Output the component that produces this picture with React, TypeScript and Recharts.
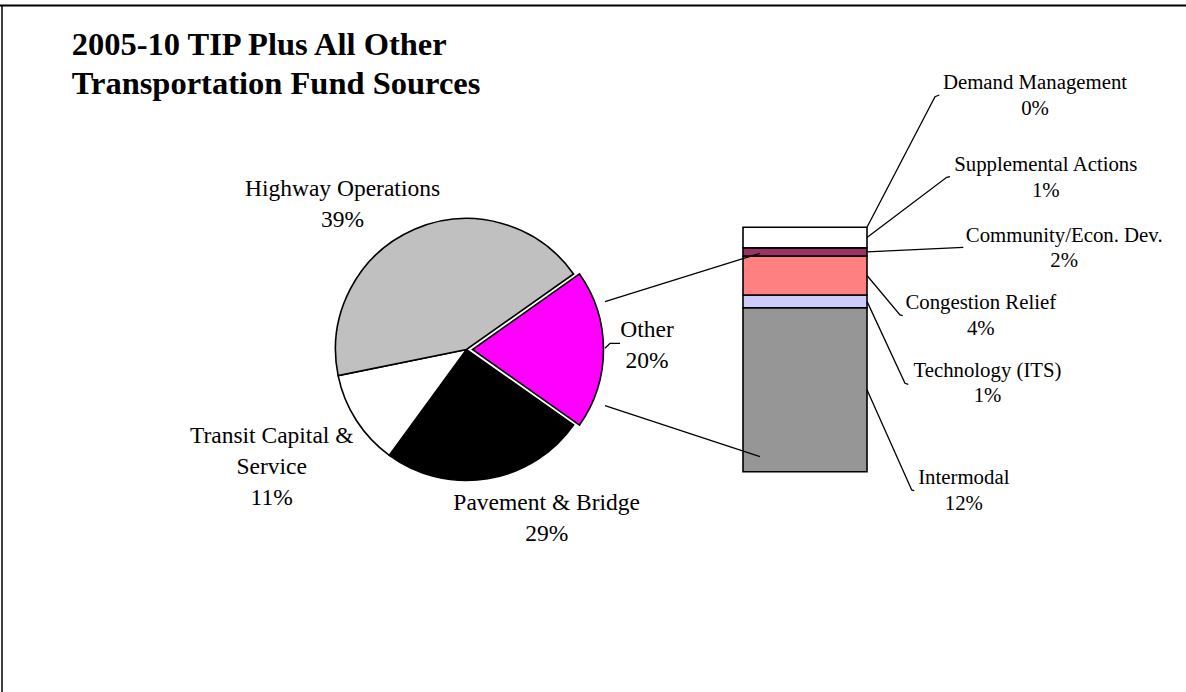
import React from 'react';
import { PieChart, Pie, Cell, BarChart, Bar, XAxis, YAxis, LabelList } from 'recharts';

// ---------- data ----------
const titleLines = ['2005-10 TIP Plus All Other', 'Transportation Fund Sources'];

// main pie slices, clockwise after the exploded "Other" slice
const pieNames = ['Pavement & Bridge', 'Transit Capital & Service', 'Highway Operations'];
const pieValues = [25.3, 11.8, 43.5];
const pieLabels = ['29%', '11%', '39%'];
const pieColors = ['#000000', '#FFFFFF', '#C0C0C0'];

const otherName = 'Other';
const otherLabel = '20%';
const otherColor = '#FF00FF';

// breakdown of "Other" (bottom to top of the stacked bar)
const barNames = ['Intermodal', 'Technology (ITS)', 'Congestion Relief', 'Community/Econ. Dev.', 'Supplemental Actions', 'Demand Management'];
const barValues = [13.15, 1.02, 3.13, 0.65, 1.65, 0];
const barLabels = ['12%', '1%', '4%', '2%', '1%', '0%'];
const barColors = ['#969696', '#CCCCFF', '#FF8080', '#993366', '#FFFFFF', '#FFFFFF'];

// ---------- layout ----------
const W = 1186;
const H = 692;
const FONT = '"Liberation Serif", "Times New Roman", serif';
const PIE = { cx: 466.5, cy: 349.5, r: 131, explode: 6 };
const BAR = { left: 743, top: 227.3, width: 124, height: 244.4 };
const PIE_FS = 23.5;
const PIE_LH = 31;
const BAR_FS = 20.8;
const BAR_LH = 25.7;

const pieLabelPos: Record<string, { x: number; y: number; lines: string[] }> = {
  'Pavement & Bridge': { x: 546.7, y: 510, lines: ['Pavement & Bridge'] },
  'Transit Capital & Service': { x: 271.7, y: 443.3, lines: ['Transit Capital &', 'Service'] },
  'Highway Operations': { x: 342.5, y: 196, lines: ['Highway Operations'] },
  Other: { x: 647, y: 337, lines: ['Other'] },
};

const barLabelPos = [
  { x: 963.8, y: 484, bend: [911.7, 490], end: [914.3, 490.7] },
  { x: 987.5, y: 376.7, bend: [905, 383.3], end: [908.3, 384.3] },
  { x: 980.8, y: 309.3, bend: [900, 315], end: [902.7, 315.7] },
  { x: 1064.2, y: 241.7, bend: [963.3, 247.3], end: [963.3, 247.3] },
  { x: 1045.8, y: 171, bend: [946.7, 177.3], end: [950, 176.7] },
  { x: 1035, y: 89.3, bend: [935, 96.7], end: [939.3, 95] },
];

const barTotal = barValues.reduce((a, b) => a + b, 0);
const pieTotal = pieValues.reduce((a, b) => a + b, 0) + barTotal;
const otherDeg = (360 * barTotal) / pieTotal;

const mainData = pieNames.map((name, i) => ({ name, value: pieValues[i], label: pieLabels[i] }));
const otherData = [{ name: otherName, value: barTotal, label: otherLabel }];
const barRow: Record<string, any> = { name: otherName };
barNames.forEach((n, i) => {
  barRow[n] = barValues[i];
});
const barData = [barRow];

const renderPieLabel = (props: any) => {
  const name = props.name ?? props.payload?.name;
  const label = props.payload?.label ?? props.label;
  const pos = pieLabelPos[name];
  if (!pos) return null;
  const lines = [...pos.lines, label];
  return (
    <g>
      {name === otherName && (
        <polyline points="605,348.3 610,343.3 620,343.3" fill="none" stroke="#000" strokeWidth={1.3} />
      )}
      <text x={pos.x} y={pos.y} textAnchor="middle" fontFamily={FONT} fontSize={PIE_FS} fill="#000">
        {lines.map((l, i) => (
          <tspan key={i} x={pos.x} y={pos.y + i * PIE_LH}>
            {l}
          </tspan>
        ))}
      </text>
    </g>
  );
};

const makeBarLabel = (idx: number) => (props: any) => {
  const vb = props.viewBox ?? props;
  const x = Number(props.x ?? vb.x);
  const y = Number(props.y ?? vb.y);
  const w = Number(props.width ?? vb.width);
  const h = Number(props.height ?? vb.height) || 0;
  const p = barLabelPos[idx];
  const sx = x + w;
  const sy = y + h / 2;
  return (
    <g>
      <polyline
        points={`${sx},${sy} ${p.bend[0]},${p.bend[1]} ${p.end[0]},${p.end[1]}`}
        fill="none"
        stroke="#000"
        strokeWidth={1.3}
      />
      <text x={p.x} y={p.y} textAnchor="middle" fontFamily={FONT} fontSize={BAR_FS} fill="#000">
        <tspan x={p.x} y={p.y}>
          {barNames[idx]}
        </tspan>
        <tspan x={p.x} y={p.y + BAR_LH}>
          {barLabels[idx]}
        </tspan>
      </text>
    </g>
  );
};

// zero-valued segments get no rect from the library; place their label at the stack position
const zeroLabels = barValues
  .map((v, i) => ({ v, i }))
  .filter((d) => d.v === 0)
  .map(({ i }) => {
    const cum = barValues.slice(0, i + 1).reduce((a, b) => a + b, 0);
    const y = BAR.top + BAR.height * (1 - cum / barTotal);
    return { i, y };
  });

export default function App() {
  const layer: React.CSSProperties = { position: 'absolute', left: 0, top: 0, width: W, height: H };
  return (
    <div style={{ position: 'relative', width: W, height: H, background: '#fff', overflow: 'hidden' }}>
      <style>{'body{margin:0;}'}</style>
      <div style={layer}>
        <PieChart width={W} height={H} margin={{ top: 0, right: 0, bottom: 0, left: 0 }}>
          <Pie
            data={mainData}
            dataKey="value"
            nameKey="name"
            cx={PIE.cx}
            cy={PIE.cy}
            outerRadius={PIE.r}
            startAngle={-otherDeg / 2}
            endAngle={-(360 - otherDeg / 2)}
            stroke="#000"
            strokeWidth={1.6}
            isAnimationActive={false}
            label={renderPieLabel}
            labelLine={false}
          >
            {mainData.map((d, i) => (
              <Cell key={d.name} fill={pieColors[i]} stroke="#000" strokeWidth={1.6} />
            ))}
          </Pie>
          <Pie
            data={otherData}
            dataKey="value"
            nameKey="name"
            cx={PIE.cx + PIE.explode}
            cy={PIE.cy}
            outerRadius={PIE.r}
            startAngle={otherDeg / 2}
            endAngle={-otherDeg / 2}
            stroke="#000"
            strokeWidth={1.6}
            isAnimationActive={false}
            label={renderPieLabel}
            labelLine={false}
          >
            <Cell fill={otherColor} stroke="#000" strokeWidth={1.6} />
          </Pie>
        </PieChart>
      </div>
      <div style={layer}>
        <BarChart
          width={W}
          height={H}
          data={barData}
          margin={{ top: BAR.top, left: BAR.left, right: W - BAR.left - BAR.width, bottom: H - BAR.top - BAR.height }}
          barCategoryGap={0}
          barGap={0}
        >
          <XAxis dataKey="name" hide />
          <YAxis hide domain={[0, barTotal]} type="number" />
          {barNames.map((n, i) => (
            <Bar
              key={n}
              dataKey={n}
              stackId="other"
              fill={barColors[i]}
              stroke="#000"
              strokeWidth={1.6}
              isAnimationActive={false}
            >
              <LabelList dataKey={n} content={makeBarLabel(i)} />
            </Bar>
          ))}
        </BarChart>
      </div>
      <svg style={{ ...layer, pointerEvents: 'none' }} width={W} height={H}>
        <line x1={0} y1={5.5} x2={W} y2={5.5} stroke="#000" strokeWidth={2} />
        <line x1={2} y1={5.5} x2={2} y2={H} stroke="#000" strokeWidth={1.5} />
        <text fontFamily={FONT} fontSize={32.5} fontWeight="bold" fill="#000">
          {titleLines.map((t, i) => (
            <tspan key={i} x={71.7} y={55 + i * 38.5}>
              {t}
            </tspan>
          ))}
        </text>
        <line x1={605} y1={301.7} x2={760} y2={253.3} stroke="#000" strokeWidth={1.3} />
        <line x1={605} y1={405.7} x2={760} y2={456.7} stroke="#000" strokeWidth={1.3} />
        {zeroLabels.map(({ i, y }) => (
          <g key={i}>{makeBarLabel(i)({ x: BAR.left, y, width: BAR.width, height: 0 })}</g>
        ))}
      </svg>
    </div>
  );
}
